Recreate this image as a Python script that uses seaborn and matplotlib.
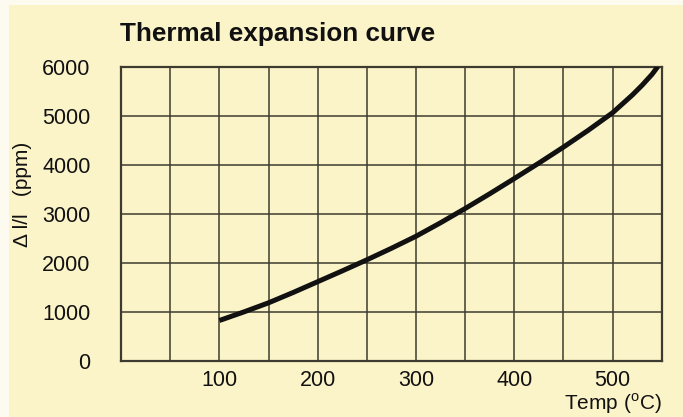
import matplotlib
matplotlib.use("Agg")
import matplotlib.pyplot as plt
from matplotlib.patches import Rectangle
import seaborn as sns
import pandas as pd

# Thermal expansion readings
temperature_c = [100, 125, 150, 175, 200, 225, 250, 275, 300, 325, 350,
                 375, 400, 425, 450, 475, 500, 520, 530, 540, 546]
expansion_ppm = [830, 1005, 1190, 1400, 1620, 1840, 2065, 2300, 2545, 2820, 3110,
                 3410, 3720, 4035, 4360, 4700, 5060, 5420, 5620, 5840, 6000]

x_ticks = [0, 50, 100, 150, 200, 250, 300, 350, 400, 450, 500, 550]
x_tick_labels = ["", "", "100", "", "200", "", "300", "", "400", "", "500", ""]
y_ticks = [0, 1000, 2000, 3000, 4000, 5000, 6000]

paper = "#fcf4c9"
ink = "#3d3b2f"

sns.set_style("white", {"axes.facecolor": paper, "figure.facecolor": paper,
                        "axes.edgecolor": ink})
plt.rcParams["font.family"] = ["Liberation Sans", "DejaVu Sans"]
plt.rcParams["mathtext.fontset"] = "custom"
plt.rcParams["mathtext.rm"] = "Liberation Sans"

df = pd.DataFrame({"temp": temperature_c, "dl": expansion_ppm})

fig = plt.figure(figsize=(6.83, 4.17), dpi=100)

# pale margin along the top and left edges of the sheet
fig.patches.append(Rectangle((0, 1 - 5 / 417), 1, 5 / 417, transform=fig.transFigure,
                             facecolor="#fdfbf0", edgecolor="none", zorder=0))
fig.patches.append(Rectangle((0, 0), 9 / 683, 1, transform=fig.transFigure,
                             facecolor="#fdfbf0", edgecolor="none", zorder=0))

ax = fig.add_axes([0.1772, 0.1336, 0.7918, 0.7069])

sns.lineplot(data=df, x="temp", y="dl", ax=ax, color="#111111",
             linewidth=3.6, solid_capstyle="butt", zorder=3)

ax.set_xlim(0, 550)
ax.set_ylim(0, 6000)
ax.set_xticks(x_ticks)
ax.set_xticklabels(x_tick_labels)
ax.set_yticks(y_ticks)
ax.set_yticklabels([str(v) for v in y_ticks])

ax.grid(True, color=ink, linewidth=1.1)
ax.set_axisbelow(True)
for side in ax.spines.values():
    side.set_visible(True)
    side.set_color(ink)
    side.set_linewidth(1.6)

ax.tick_params(axis="x", length=0, pad=6.5, labelsize=15.5, colors="#111111")
ax.tick_params(axis="y", length=0, pad=22, labelsize=15.5, colors="#111111")

ax.set_ylabel("Δ l/l   (ppm)", fontsize=15, color="#111111")
ax.yaxis.set_label_coords(-0.165, 0.567)
ax.set_xlabel(r"Temp ($^{\mathrm{o}}$C)", fontsize=15, color="#111111", ha="right")
ax.xaxis.set_label_coords(1.0, -0.102)

fig.text(0.176, 0.918, "Thermal expansion curve", fontsize=18.8,
         fontweight="bold", color="#111111", ha="left", va="center")

fig.savefig("out.png", dpi=100, facecolor=paper)
